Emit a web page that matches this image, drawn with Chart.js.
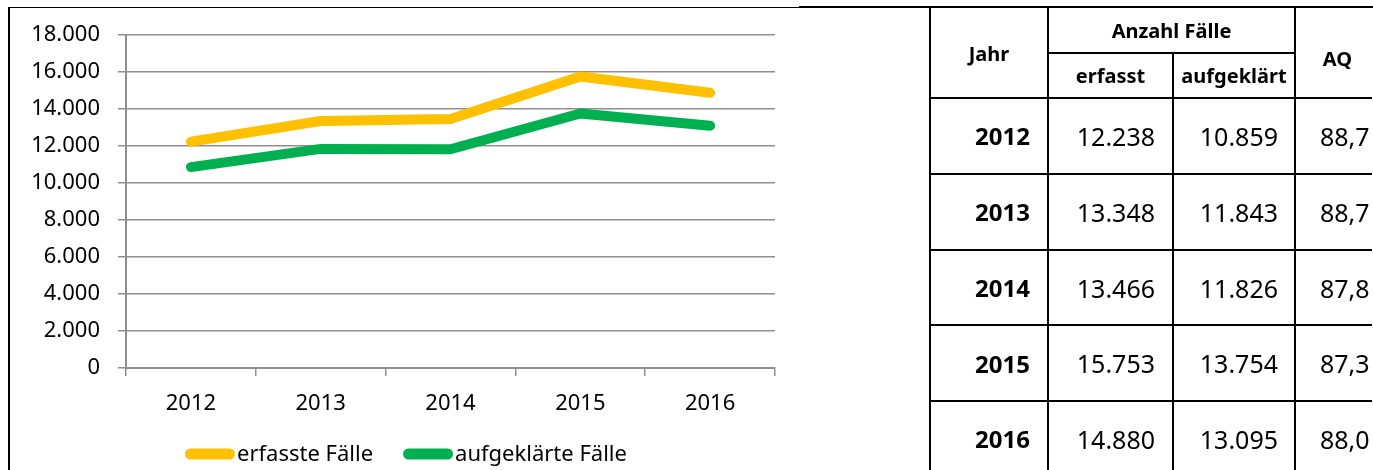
<!DOCTYPE html>
<html><head><meta charset="utf-8">
<script src="https://cdn.jsdelivr.net/npm/chart.js@4"></script>
<style>
html,body{margin:0;padding:0;background:#fff;}
body{width:1373px;height:470px;position:relative;overflow:hidden;font-family:"Noto Sans",sans-serif;color:#000;}
#chartWrap{position:absolute;left:0;top:0;width:800px;height:470px;}
.ln{position:absolute;background:#000;}
.cell{position:absolute;display:flex;align-items:center;box-sizing:border-box;white-space:nowrap;}
</style></head><body>
<div class="ln" style="left:8px;top:7px;width:2px;height:463px"></div>
<div class="ln" style="left:8px;top:7px;width:791px;height:1px"></div>
<div id="chartWrap"><canvas id="c" width="800" height="470"></canvas></div>
<div id="table"></div>
<script>
// ---- data ----
const years = ['2012', '2013', '2014', '2015', '2016'];
const erfasst = [12238, 13348, 13466, 15753, 14880];
const aufgeklaert = [10859, 11843, 11826, 13754, 13095];
const aq = [88.7, 88.7, 87.8, 87.3, 88.0];
const seriesNames = ['erfasste Fälle', 'aufgeklärte Fälle'];
const yTickValues = [0, 2000, 4000, 6000, 8000, 10000, 12000, 14000, 16000, 18000];
const tableHeaders = ['Jahr', 'Anzahl Fälle', 'erfasst', 'aufgeklärt', 'AQ'];

const fmtDE = v => String(v).replace(/\B(?=(\d{3})+(?!\d))/g, '.');
const fmtAQ = v => v.toFixed(1).replace('.', ',');

const GRID = '#8f8f8f';

const legendPlugin = {
  id: 'customLegend',
  afterDraw(chart) {
    const ctx = chart.ctx;
    ctx.save();
    ctx.font = '22px "Noto Sans"';
    ctx.textBaseline = 'alphabetic';
    ctx.fillStyle = '#000';
    let x = 185;
    const y = 454;
    chart.data.datasets.forEach(ds => {
      ctx.strokeStyle = ds.borderColor;
      ctx.lineWidth = 11;
      ctx.lineCap = 'round';
      ctx.beginPath();
      ctx.moveTo(x + 5.5, y);
      ctx.lineTo(x + 50 - 5.5, y);
      ctx.stroke();
      ctx.fillText(ds.label, x + 52, y + 7);
      x += 52 + ctx.measureText(ds.label).width + 30;
    });
    ctx.restore();
  }
};

Chart.defaults.font.family = '"Noto Sans", sans-serif';
Chart.defaults.font.size = 22;
Chart.defaults.color = '#000';

new Chart(document.getElementById('c'), {
  type: 'line',
  data: {
    labels: years,
    datasets: [
      { label: seriesNames[0], data: erfasst, borderColor: '#FFC000', backgroundColor: '#FFC000',
        borderWidth: 10, pointRadius: 0, tension: 0, borderCapStyle: 'round', borderJoinStyle: 'round', fill: false },
      { label: seriesNames[1], data: aufgeklaert, borderColor: '#00B050', backgroundColor: '#00B050',
        borderWidth: 10, pointRadius: 0, tension: 0, borderCapStyle: 'round', borderJoinStyle: 'round', fill: false }
    ]
  },
  options: {
    responsive: false,
    animation: false,
    devicePixelRatio: 1,
    layout: { padding: { left: 0, right: 25, top: 35, bottom: 0 } },
    plugins: { legend: { display: false }, tooltip: { enabled: false } },
    scales: {
      x: {
        offset: true,
        grid: { display: true, drawOnChartArea: false, drawTicks: true, tickLength: 8, color: GRID, lineWidth: 1.5, offset: true },
        border: { display: true, color: GRID, width: 2 },
        ticks: { padding: 15, color: '#000', font: { size: 22 } },
        afterFit(scale) { scale.height = 102; }
      },
      y: {
        min: yTickValues[0],
        max: yTickValues[yTickValues.length - 1],
        afterBuildTicks(scale) { scale.ticks = yTickValues.map(v => ({ value: v })); },
        grid: { color: GRID, lineWidth: 1.5, tickLength: 8, drawTicks: true },
        border: { display: true, color: GRID, width: 2 },
        ticks: { padding: 18, color: '#000', font: { size: 22 }, callback: v => fmtDE(v) },
        afterFit(scale) { scale.width = 126; }
      }
    }
  },
  plugins: [legendPlugin]
});

// ---- table ----
const T = document.getElementById('table');
function line(l, t, w, h) {
  const d = document.createElement('div');
  d.className = 'ln';
  d.style.cssText = `left:${l}px;top:${t}px;width:${w}px;height:${h}px`;
  T.appendChild(d);
}
function cell(text, l, t, w, h, opts) {
  const d = document.createElement('div');
  d.className = 'cell';
  d.textContent = text;
  d.style.cssText = `left:${l}px;top:${t}px;width:${w}px;height:${h}px;` + opts;
  T.appendChild(d);
}
const colB = [930, 1048, 1173, 1295, 1380];
const rowB = [7, 53, 98, 173.5, 250, 325, 401, 476];

// borders
line(799, 6, 574, 2);
[0, 1, 3].forEach(i => line(colB[i] - 1, 6, 2, 470));
line(colB[2] - 1, rowB[1], 2, 470);
line(colB[1] - 1, rowB[1] - 1, colB[3] - colB[1], 2);
for (let r = 2; r < rowB.length - 1; r++) line(colB[0] - 1, rowB[r] - 1, 1373 - colB[0], 2);

const hdr = 'font-weight:700;font-size:20px;justify-content:center;';
cell(tableHeaders[0], colB[0], rowB[0], colB[1] - colB[0], rowB[2] - rowB[0], hdr + 'padding-top:2px;');
cell(tableHeaders[1], colB[1], rowB[0], colB[3] - colB[1], rowB[1] - rowB[0], hdr);
cell(tableHeaders[2], colB[1], rowB[1], colB[2] - colB[1], rowB[2] - rowB[1], hdr);
cell(tableHeaders[3], colB[2], rowB[1], colB[3] - colB[2], rowB[2] - rowB[1], hdr);
cell(tableHeaders[4], colB[3], rowB[0], colB[4] - colB[3], rowB[2] - rowB[0], hdr + 'padding-top:12px;');

years.forEach((y, i) => {
  const t = rowB[i + 2], h = rowB[i + 3] - rowB[i + 2];
  cell(y, colB[0], t, colB[1] - colB[0], h, 'font-weight:700;font-size:24px;justify-content:flex-end;padding-right:18px;');
  cell(fmtDE(erfasst[i]), colB[1], t, colB[2] - colB[1], h, 'font-size:25px;justify-content:flex-end;padding-right:18px;');
  cell(fmtDE(aufgeklaert[i]), colB[2], t, colB[3] - colB[2], h, 'font-size:25px;justify-content:flex-end;padding-right:17px;');
  cell(fmtAQ(aq[i]), colB[3], t, colB[4] - colB[3], h, 'font-size:25px;justify-content:flex-start;padding-left:25px;');
});
</script>
</body></html>
